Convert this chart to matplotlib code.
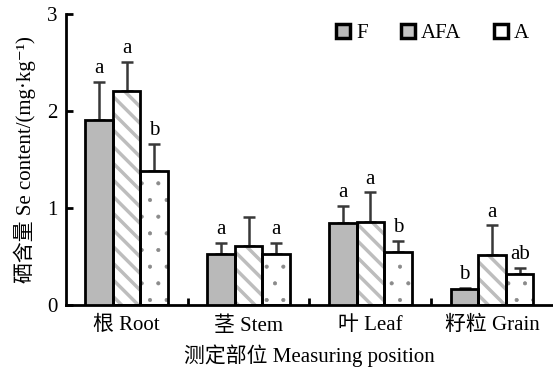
import numpy as np
import matplotlib
matplotlib.use('Agg')
import matplotlib.pyplot as plt
import matplotlib.patches as patches

# data
parts = ['根 Root', '茎 Stem', '叶 Leaf', '籽粒 Grain']
treatments = ['F', 'AFA', 'A']
means = {
    'F':   [1.91, 0.53, 0.85, 0.16],
    'AFA': [2.21, 0.61, 0.86, 0.52],
    'A':   [1.38, 0.53, 0.55, 0.32],
}
errors = {
    'F':   [0.39, 0.11, 0.17, 0.02],
    'AFA': [0.30, 0.30, 0.30, 0.30],
    'A':   [0.28, 0.11, 0.11, 0.06],
}
letters = {
    'F':   ['a', 'a', 'a', 'b'],
    'AFA': ['a', '', 'a', 'a'],
    'A':   ['b', 'a', 'b', 'ab'],
}

FONTS = ['Liberation Serif', 'Noto Sans CJK SC', 'DejaVu Sans']
plt.rcParams['font.family'] = FONTS
plt.rcParams['font.size'] = 15

# face colour, hatch, hatch colour, hatch line width
styles = {
    'F':   dict(face='#b9b9b9', hatch=None, hcol=None, hlw=1.0, legend='#b9b9b9'),
    'AFA': dict(face='white', hatch='\\\\', hcol='#bdbdbd', hlw=2.5, legend='#c4c4c4'),
    'A':   dict(face='white', hatch='.', hcol='#8a8a8a', hlw=0.5, legend='white'),
}

fig = plt.figure(figsize=(5.53, 3.71), dpi=100)
ax = fig.add_axes([0.119, 0.178, 0.881, 0.784])

x = np.arange(len(parts))
w = 0.226
for k, t in enumerate(treatments):
    xs = x + (k - 1) * w
    st = styles[t]
    if st['hatch']:
        plt.rcParams['hatch.linewidth'] = st['hlw']
        ax.bar(xs, means[t], w, color=st['face'], edgecolor=st['hcol'],
               hatch=st['hatch'], linewidth=0, zorder=2)
        ax.bar(xs, means[t], w, fill=False, edgecolor='black', linewidth=2, zorder=3)
    else:
        ax.bar(xs, means[t], w, color=st['face'], edgecolor='black', linewidth=2, zorder=3)
    ax.errorbar(xs, means[t], yerr=[np.zeros(len(parts)), errors[t]], fmt='none',
                ecolor='#383838', elinewidth=1.8, capsize=4, capthick=1.8, zorder=1)
    for xi, m, e, lab in zip(xs, means[t], errors[t], letters[t]):
        if lab:
            ax.text(xi, m + e + 0.04, lab, ha='center', va='bottom', fontsize=15)

ax.set_xlim(-0.5, 3.5)
ax.set_ylim(0, 3)
ax.set_yticks([0, 1, 2, 3])
ax.set_xticks(x)
ax.set_xticklabels(parts)
ax.set_xticks([0.5, 1.5, 2.5], minor=True)
ax.tick_params(axis='x', which='major', length=0, pad=8)
ax.tick_params(axis='x', which='minor', direction='in', length=5, width=2)
ax.tick_params(axis='y', direction='in', length=5, width=2, pad=6)
for s in ['top', 'right']:
    ax.spines[s].set_visible(False)
for s in ['left', 'bottom']:
    ax.spines[s].set_linewidth(2)

ax.set_ylabel('硒含量 Se content/(mg·kg⁻¹)', labelpad=8)
ax.set_xlabel('测定部位 Measuring position', labelpad=6)

handles = []
for t in treatments:
    handles.append(patches.Patch(facecolor=styles[t]['legend'], edgecolor='black',
                                 linewidth=2.5, label=t))
ax.legend(handles=handles, loc='upper right', ncol=3, frameon=False,
          handlelength=0.65, handleheight=0.65, handletextpad=0.3, columnspacing=1.6,
          bbox_to_anchor=(0.99, 1.03))

fig.savefig('out.png', dpi=100)
